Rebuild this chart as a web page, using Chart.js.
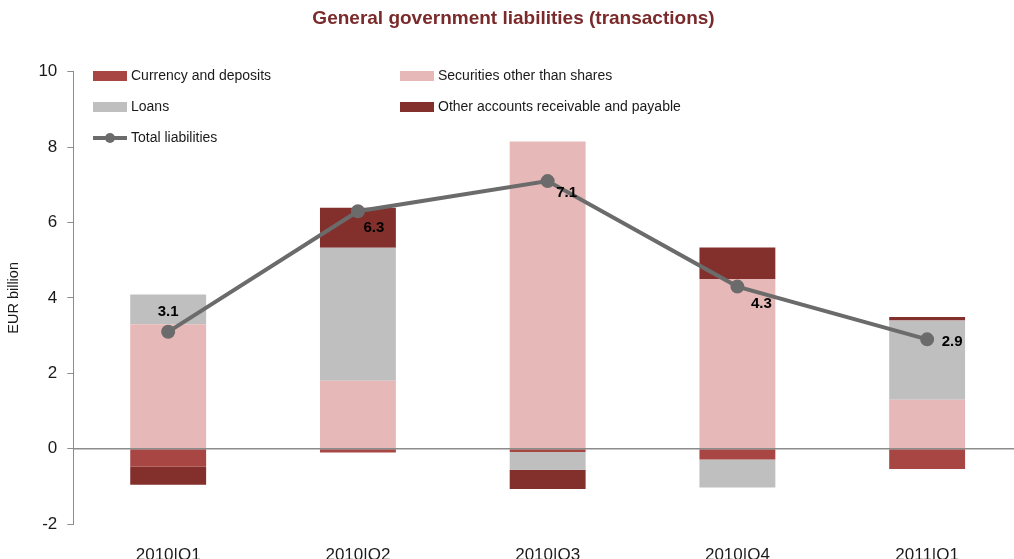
<!DOCTYPE html>
<html>
<head>
<meta charset="utf-8">
<script src="https://cdn.jsdelivr.net/npm/chart.js@4.4.1/dist/chart.umd.min.js"></script>
<style>
html,body{margin:0;padding:0;background:#fff;overflow:hidden;}
#wrap{position:absolute;left:0;top:0;width:1040px;height:559px;}
</style>
</head>
<body>
<div id="wrap"><canvas id="chart"></canvas></div>
<script>
// quarters on the x axis
const quarters = ["2010|Q1", "2010|Q2", "2010|Q3", "2010|Q4", "2011|Q1"];

// transactions by instrument, EUR billion
const currencyDeposits = [-0.48, -0.10, -0.09, -0.29, -0.54];
const securities = [3.30, 1.80, 8.15, 4.50, 1.30];
const loans = [0.79, 3.53, -0.47, -0.74, 2.10];
const otherAccounts = [-0.48, 1.06, -0.51, 0.84, 0.09];
const totalLiabilities = [3.1, 6.3, 7.1, 4.3, 2.9];

const yTicks = [-2, 0, 2, 4, 6, 8, 10];

const FONT = "'Liberation Sans', Arial, sans-serif";

// legend in two columns inside the plot area
const legendPlugin = {
  id: "cornerLegend",
  afterDraw(chart, args, opts) {
    const c = chart.ctx;
    const items = [
      {ds: 0, col: 0, row: 0},
      {ds: 1, col: 1, row: 0},
      {ds: 2, col: 0, row: 1},
      {ds: 3, col: 1, row: 1},
      {ds: 4, col: 0, row: 2}
    ];
    c.save();
    c.font = "14px " + FONT;
    c.textBaseline = "middle";
    items.forEach(it => {
      const ds = chart.data.datasets[it.ds];
      const x = opts.x[it.col];
      const y = opts.y[it.row];
      if (ds.type === "line") {
        c.strokeStyle = ds.borderColor;
        c.lineWidth = 4;
        c.beginPath();
        c.moveTo(x, y);
        c.lineTo(x + 34, y);
        c.stroke();
        c.fillStyle = ds.pointBackgroundColor;
        c.beginPath();
        c.arc(x + 17, y, 5, 0, Math.PI * 2);
        c.fill();
      } else {
        c.fillStyle = ds.backgroundColor;
        c.fillRect(x, y - 5, 34, 10);
      }
      c.fillStyle = "#1a1a1a";
      c.fillText(ds.label, x + 38, y);
    });
    c.restore();
  }
};

// zero line over the bars, under the total line
const zeroLine = {
  id: "zeroLine",
  beforeDatasetDraw(chart, args) {
    if (args.index !== 4) return;
    const y0 = chart.scales.y.getPixelForValue(0);
    const a = chart.chartArea;
    const c = chart.ctx;
    c.save();
    c.strokeStyle = "#8C8C8C";
    c.lineWidth = 1.5;
    c.beginPath();
    c.moveTo(a.left, y0);
    c.lineTo(a.right, y0);
    c.stroke();
    c.restore();
  }
};

// value labels next to the total line points
const totalLabels = {
  id: "totalLabels",
  afterDatasetsDraw(chart, args, opts) {
    const meta = chart.getDatasetMeta(4);
    const c = chart.ctx;
    c.save();
    c.font = "bold 15px " + FONT;
    c.fillStyle = "#000";
    c.textAlign = "center";
    c.textBaseline = "middle";
    meta.data.forEach((pt, i) => {
      const off = opts.offsets[i];
      c.fillText(totalLiabilities[i].toFixed(1), pt.x + off[0], pt.y + off[1]);
    });
    c.restore();
  }
};

new Chart(document.getElementById("chart"), {
  data: {
    labels: quarters,
    datasets: [
      {type: "bar", label: "Currency and deposits", data: currencyDeposits, backgroundColor: "#A84644", order: 1},
      {type: "bar", label: "Securities other than shares", data: securities, backgroundColor: "#E6B8B7", order: 1},
      {type: "bar", label: "Loans", data: loans, backgroundColor: "#BFBFBF", order: 1},
      {type: "bar", label: "Other accounts receivable and payable", data: otherAccounts, backgroundColor: "#83302D", order: 1},
      {type: "line", label: "Total liabilities", data: totalLiabilities, stack: "total",
        borderColor: "#6B6B6B", borderWidth: 4, pointBackgroundColor: "#6B6B6B",
        pointBorderColor: "#6B6B6B", pointRadius: 5, tension: 0, order: 0}
    ]
  },
  options: {
    responsive: true,
    maintainAspectRatio: false,
    animation: false,
    layout: {padding: {left: 5, right: 18, top: 0, bottom: 0}},
    datasets: {bar: {barPercentage: 0.4, categoryPercentage: 1}},
    plugins: {
      legend: {display: false},
      tooltip: {enabled: false},
      title: {
        display: true,
        text: "General government liabilities (transactions)",
        color: "#7A2A2A",
        font: {family: FONT, size: 19, weight: "bold"},
        padding: {top: 7, bottom: 42}
      },
      cornerLegend: {x: [93, 400], y: [76, 107, 138]},
      totalLabels: {
        offsets: [[0, -20], [16, 17], [19, 12], [24, 17], [25, 3]]
      }
    },
    scales: {
      x: {
        stacked: true,
        grid: {display: false},
        border: {display: false},
        ticks: {color: "#1a1a1a", font: {family: FONT, size: 17}, padding: 13},
        afterFit(scale) { scale.height = 35; }
      },
      y: {
        stacked: true,
        min: -2,
        max: 10,
        afterBuildTicks(scale) { scale.ticks = yTicks.map(v => ({value: v})); },
        border: {display: true, color: "#8C8C8C", width: 1},
        grid: {
          color: "rgba(0,0,0,0)",
          tickColor: "#8C8C8C",
          tickLength: 6
        },
        ticks: {color: "#1a1a1a", font: {family: FONT, size: 17}, padding: 10},
        title: {display: true, text: "EUR billion", color: "#1a1a1a", font: {family: FONT, size: 14.5}, padding: {top: 0, bottom: 6}}
      }
    }
  },
  plugins: [legendPlugin, zeroLine, totalLabels]
});
</script>
</body>
</html>
